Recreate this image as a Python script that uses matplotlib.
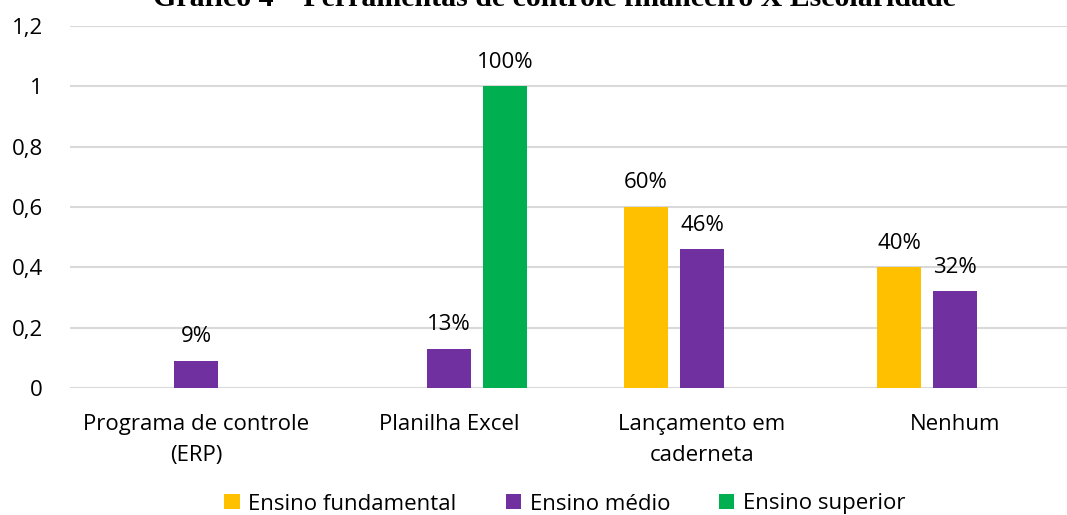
import matplotlib
matplotlib.use("Agg")
import matplotlib.pyplot as plt
import numpy as np

categories = ["Programa de controle\n(ERP)", "Planilha Excel", "Lançamento em\ncaderneta", "Nenhum"]
series_names = ["Ensino fundamental", "Ensino médio", "Ensino superior"]
fundamental = [None, None, 0.60, 0.40]
medio = [0.09, 0.13, 0.46, 0.32]
superior = [None, 1.00, None, None]
colors = ["#FFC000", "#7030A0", "#00B050"]
title = "Gráfico 4 – Ferramentas de controle financeiro X Escolaridade"
yticks = [0, 0.2, 0.4, 0.6, 0.8, 1.0, 1.2]
ytick_labels = ["0", "0,2", "0,4", "0,6", "0,8", "1", "1,2"]

plt.rcParams['font.family'] = ['Open Sans', 'DejaVu Sans']
FS = 16

fig = plt.figure(figsize=(10.67, 5.15), dpi=100)
W, H = 1067, 515
ax_left, ax_right = 69.5, 1081.5
y0, y12 = 388, 26
ax = fig.add_axes([ax_left / W, 1 - y0 / H, (ax_right - ax_left) / W, (y0 - y12) / H])
ax.set_xlim(-0.5, len(categories) - 0.5)
ax.set_ylim(0, 1.2)

x = np.arange(len(categories))
width = 0.174
offset = 0.221
data = [fundamental, medio, superior]
for i, (name, vals, col) in enumerate(zip(series_names, data, colors)):
    xs = [xi + (i - 1) * offset for xi, v in zip(x, vals) if v is not None]
    vs = [v for v in vals if v is not None]
    bars = ax.bar(xs, vs, width, color=col, label=name, zorder=3)
    for b, v in zip(bars, vs):
        ax.text(b.get_x() + b.get_width() / 2, v + 0.045, f"{round(v*100)}%",
                ha="center", va="bottom", fontsize=FS, color="#000000")

ax.set_yticks(yticks)
ax.set_yticklabels(ytick_labels, fontsize=FS)
ax.set_xticks(x)
ax.set_xticklabels(categories, fontsize=FS, linespacing=1.65)
ax.tick_params(axis="both", length=0, colors="#000000")
ax.tick_params(axis="y", pad=19)
ax.tick_params(axis="x", pad=18.5)
ax.grid(axis="y", color="#D9D9D9", linewidth=1.5, zorder=0)
for s in ax.spines.values():
    s.set_visible(False)

fig.text(0.52, 1 - 6 / H, title, ha="center", va="baseline", fontsize=21.5,
         fontweight="bold", family="Liberation Serif")

handles, labels = ax.get_legend_handles_labels()
fig.legend(handles, labels, loc="center", bbox_to_anchor=(565 / W, 1 - 504 / H), ncol=3,
           frameon=False, fontsize=FS, handlelength=0.68, handleheight=0.68,
           handletextpad=0.4, columnspacing=2.2)

fig.savefig("out.png", dpi=100)
